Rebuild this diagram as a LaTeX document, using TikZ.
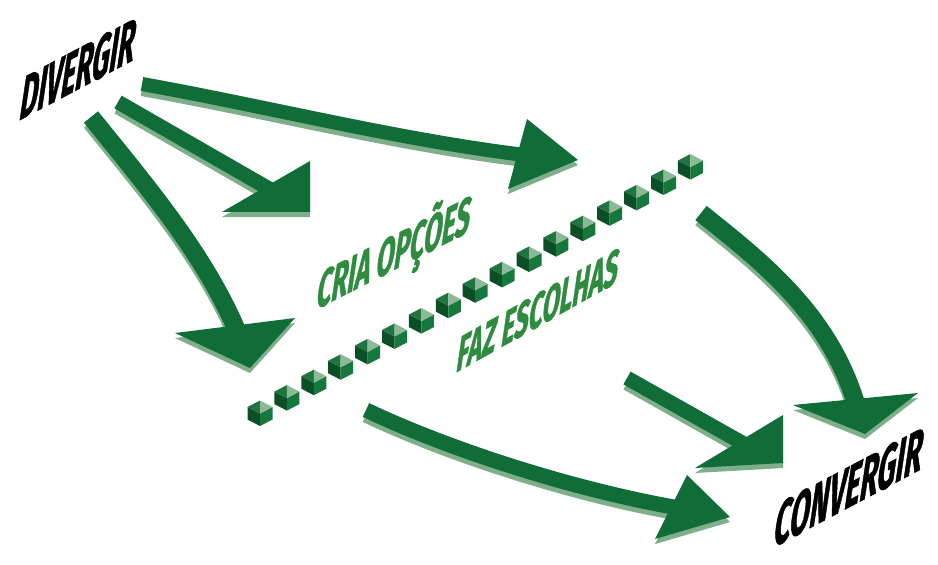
\documentclass[tikz,border=0pt]{standalone}
\usepackage{fontspec}
\setmainfont{Fira Sans}[BoldFeatures={FakeBold=1.5}]
\usepackage{tikz}
\definecolor{arrowgreen}{HTML}{106D37}
\definecolor{arrowshade}{HTML}{7FAE8B}
\definecolor{labelgreen}{HTML}{2E8B3F}
\definecolor{cubedark}{HTML}{0B4F27}
\definecolor{cubemid}{HTML}{16783C}
\definecolor{cubetop}{HTML}{1F7440}
\definecolor{cubelight}{HTML}{8DBA96}

% shaft width, shaft path, three corners of the head
\newcommand{\greenarrow}[5]{%
  \begin{scope}[transform canvas={yshift=-4.3pt}, color=arrowshade]
    \draw[line width=#1] #2;
    \fill #3 -- #4 -- #5 -- cycle;
  \end{scope}
  \draw[color=arrowgreen, line width=#1] #2;
  \fill[arrowgreen] #3 -- #4 -- #5 -- cycle;
}

\tikzset{
  pics/cube/.style={code={
    \fill[cubedark]  (-12.5,-6) -- (0,0.5) -- (0,13) -- (-12.5,6.5) -- cycle;
    \fill[cubemid]   (0,0.5) -- (12.5,-6) -- (12.5,6.5) -- (0,13) -- cycle;
    \fill[cubetop]   (0,-12.5) -- (0,0.5) -- (-12.5,-6) -- cycle;
    \fill[cubelight] (0,-12.5) -- (12.5,-6) -- (0,0.5) -- cycle;
  }}
}

\begin{document}
\begin{tikzpicture}[x=0.03cm, y=-0.03cm,
    title/.style={anchor=base west, inner sep=0pt, font=\fontsize{40}{40}\selectfont\bfseries},
    steplabel/.style={title, text=labelgreen}]
  \useasboundingbox[fill=white] (0,0) rectangle (938,565);

  % arrows out of DIVERGIR
  \greenarrow{12pt}{(142,84) .. controls (265,106) and (400,140) .. (525,155)}{(527,119)}{(578,160)}{(508,189)}
  \greenarrow{12.5pt}{(118,102) -- (273,191)}{(310,161)}{(310,212)}{(222,212)}
  \greenarrow{15.5pt}{(91,117) .. controls (150,190) and (205,255) .. (238,333)}{(175,333)}{(250,368)}{(295,318)}

  % arrows into CONVERGIR
  \greenarrow{15.5pt}{(701,213) .. controls (761,261) and (830,314) .. (857,407)}{(793,405)}{(865,434)}{(918,393)}
  \greenarrow{13pt}{(366,410) .. controls (450,450) and (575,490) .. (679,508)}{(687,475)}{(730,517)}{(655,539)}
  \greenarrow{12.5pt}{(627,378) -- (746,445)}{(783,415)}{(783,463)}{(695,468)}

  % row of cubes
  \foreach \i in {0,...,16}
    \pic at ({260+26.9*\i},{413-15.4*\i}) {cube};

  \node[title, cm={0.58,0.307,0.2,1.35,(0,0)}] (divergir) at (18,121) {DIVERGIR};
  \node[title, cm={0.61,0.323,0.2,1.35,(0,0)}] (convergir) at (772,548) {CONVERGIR};
  \node[steplabel, cm={0.55,0.28,0.17,1.15,(0,0)}] (cria) at (315,310) {CRIA OPÇÕES};
  \node[steplabel, cm={0.53,0.297,0.16,1.1,(0,0)}] (faz) at (455,373) {FAZ ESCOLHAS};
\end{tikzpicture}
\end{document}
